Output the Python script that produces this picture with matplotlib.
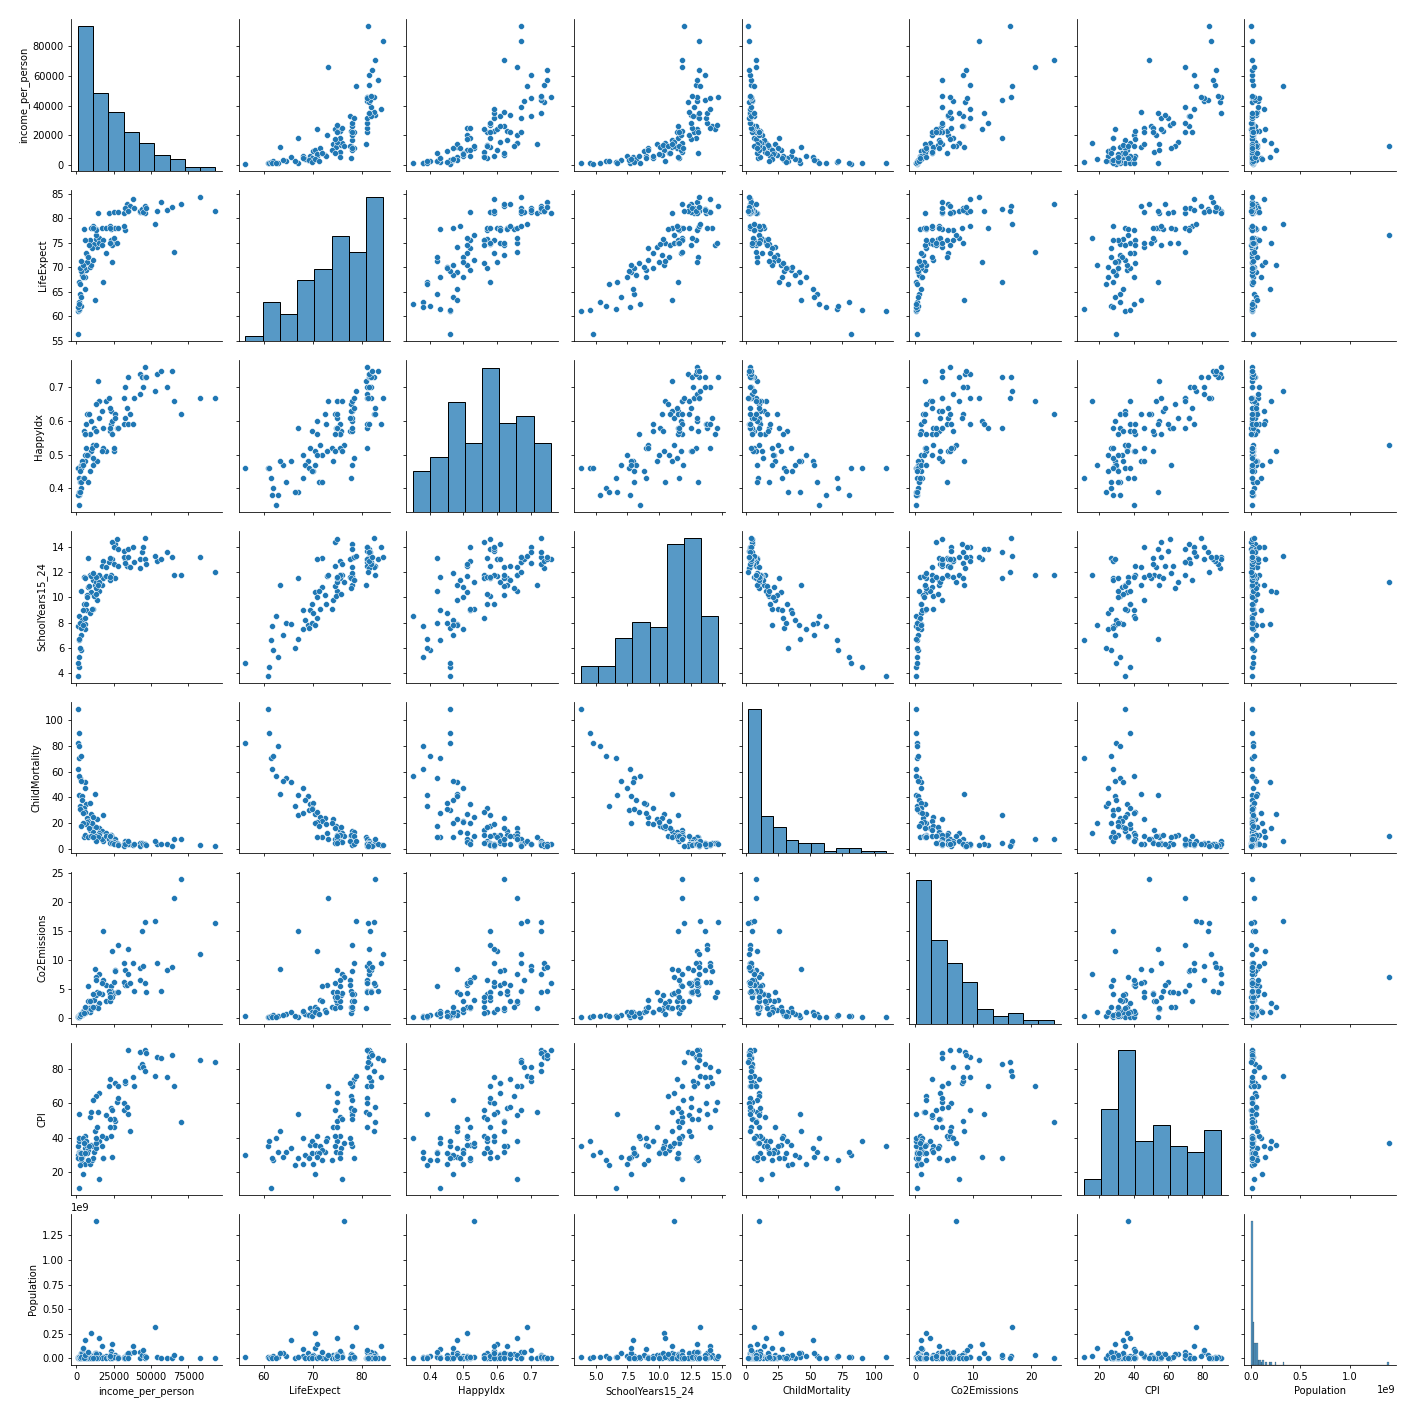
import matplotlib
matplotlib.use("Agg")
import matplotlib.pyplot as plt
import pandas as pd
import seaborn as sns

income_per_person = [1500, 1800, 1100, 1700, 2000, 3000, 1300, 2700, 5800, 1600,
    3500, 12500, 1800, 6000, 3800, 4000, 6500, 2900, 9500, 5200,
    10000, 3500, 14000, 7000, 11500, 6000, 18000, 2500, 8000, 4700,
    15000, 17000, 12000, 10500, 7500, 9000, 20000, 13500, 6500, 11500,
    4500, 15000, 8500, 3000, 5000, 5600, 8000, 10000, 13000, 15500,
    13000, 18000, 23000, 17500, 14500, 13000, 11500, 20000, 23000, 24000,
    26000, 22000, 22500, 26000, 25000, 22500, 24000, 27000, 25000, 28000,
    28000, 33000, 22500, 32000, 32000, 34000, 36000, 35000, 33000, 35000,
    38000, 39000, 43000, 42500, 46000, 44000, 45000, 46000, 46500, 54000,
    53000, 57000, 60500, 63800, 65700, 70400, 82900, 93200]

LifeExpect = [61.0, 61.2, 56.3, 63.0, 61.5, 62.0, 61.8, 64.5, 65.5, 62.5,
    64.0, 63.4, 67.0, 68.0, 69.0, 68.5, 69.5, 66.5, 70.0, 69.8,
    70.5, 69.2, 74.2, 72.5, 71.5, 70.8, 67.0, 69.8, 72.0, 68.0,
    75.0, 78.0, 74.8, 74.0, 71.0, 75.5, 73.0, 75.8, 72.8, 78.5,
    70.5, 76.0, 74.5, 71.3, 77.8, 75.5, 72.0, 78.0, 76.5, 75.0,
    77.8, 75.5, 75.5, 74.5, 81.0, 77.6, 78.0, 78.0, 77.8, 71.0,
    75.0, 81.1, 78.5, 78.0, 76.0, 78.0, 74.5, 75.0, 81.2, 81.2,
    78.0, 77.6, 75.0, 78.5, 81.1, 82.8, 82.5, 81.5, 82.0, 81.5,
    84.0, 82.0, 81.2, 81.5, 81.1, 81.8, 81.2, 82.5, 82.0, 81.5,
    78.8, 83.4, 81.6, 82.2, 73.2, 82.8, 84.4, 81.4]

HappyIdx = [0.46, 0.46, 0.46, 0.38, 0.43, 0.40, 0.38, 0.42, 0.48, 0.35,
    0.47, 0.48, 0.39, 0.50, 0.48, 0.47, 0.52, 0.39, 0.45, 0.57,
    0.51, 0.46, 0.48, 0.62, 0.53, 0.56, 0.58, 0.45, 0.50, 0.43,
    0.66, 0.63, 0.58, 0.52, 0.50, 0.56, 0.51, 0.57, 0.59, 0.49,
    0.47, 0.66, 0.62, 0.42, 0.43, 0.56, 0.42, 0.60, 0.53, 0.61,
    0.65, 0.52, 0.59, 0.51, 0.72, 0.57, 0.47, 0.66, 0.63, 0.60,
    0.62, 0.67, 0.64, 0.61, 0.51, 0.57, 0.56, 0.58, 0.52, 0.58,
    0.58, 0.61, 0.58, 0.67, 0.59, 0.64, 0.62, 0.59, 0.70, 0.73,
    0.59, 0.67, 0.68, 0.74, 0.76, 0.73, 0.70, 0.73, 0.73, 0.74,
    0.69, 0.75, 0.70, 0.75, 0.66, 0.62, 0.67, 0.67]

SchoolYears15_24 = [3.8, 4.5, 4.8, 5.3, 6.6, 5.8, 7.7, 8.0, 7.9, 8.5,
    7.0, 11.0, 6.7, 7.5, 7.8, 8.2, 9.0, 6.0, 8.8, 9.5,
    10.4, 7.6, 9.8, 10.2, 9.1, 8.4, 11.5, 8.0, 10.8, 9.0,
    10.5, 11.0, 10.1, 9.1, 10.0, 11.8, 11.7, 10.3, 9.5, 11.4,
    7.8, 11.8, 10.9, 10.5, 11.6, 11.5, 13.1, 11.7, 11.2, 11.2,
    10.7, 12.9, 11.8, 12.5, 11.0, 11.6, 11.9, 12.4, 11.5, 13.0,
    11.5, 12.8, 11.4, 14.2, 12.6, 13.1, 14.4, 14.6, 14.0, 12.5,
    13.8, 13.0, 11.6, 13.2, 13.7, 12.5, 12.4, 13.8, 12.7, 13.2,
    14.0, 12.8, 13.0, 12.3, 13.0, 13.6, 14.0, 14.7, 12.6, 12.9,
    13.25, 13.0, 13.6, 13.2, 11.8, 11.8, 13.2, 12.0]

ChildMortality = [109, 90, 82, 80, 71, 72, 62, 55, 52, 57,
    53, 43, 42, 47, 41, 38, 35, 33, 36, 32,
    27, 30, 23, 24, 25, 29, 26, 31, 22, 28,
    16, 14, 18, 20, 21, 15, 12.5, 17, 19, 13,
    20.5, 12, 16.5, 18, 9.5, 11, 9, 10, 10, 10.5,
    10, 6, 11, 8, 9, 6, 9, 10, 11, 9,
    8, 8, 10, 5, 5.5, 4.5, 5, 5, 4, 3.5,
    3, 6, 10, 3.5, 2.5, 3.5, 3.5, 3.5, 4, 6,
    3, 4, 4.5, 2.2, 3.5, 5, 3.8, 4, 3, 4,
    6.5, 4, 3.5, 2.6, 8, 8, 2.8, 2.0]

Co2Emissions = [0.10, 0.10, 0.30, 0.20, 0.30, 0.40, 0.10, 0.60, 0.90, 0.10,
    0.40, 8.40, 0.10, 1.00, 0.50, 0.60, 1.70, 0.30, 1.00, 0.90,
    1.90, 0.50, 4.50, 1.30, 3.10, 0.80, 14.9, 0.30, 2.80, 1.10,
    2.50, 4.00, 3.00, 1.80, 1.40, 2.90, 5.60, 3.90, 0.90, 4.00,
    1.00, 7.60, 1.60, 0.60, 0.80, 1.90, 5.50, 1.50, 7.00, 4.20,
    1.80, 6.50, 5.50, 6.00, 1.60, 6.50, 1.90, 2.90, 4.60, 11.5,
    8.30, 4.60, 2.80, 8.10, 4.30, 4.00, 3.50, 4.50, 6.20, 4.50,
    12.5, 5.70, 3.50, 9.50, 6.20, 5.70, 5.90, 11.8, 8.20, 7.50,
    9.50, 4.60, 6.50, 8.50, 6.00, 15.0, 8.90, 16.5, 4.50, 9.50,
    16.7, 4.60, 8.20, 8.70, 20.7, 23.9, 10.9, 16.4]

CPI = [35, 38, 30, 32, 11, 27, 28, 32, 34, 40,
    29, 44, 54, 25, 29, 30, 36, 24, 25, 38,
    36, 28, 46, 32, 35, 41, 28, 31, 33, 40,
    38, 35, 32, 27, 31, 52, 40, 34, 38, 28,
    19, 16, 35, 31, 37, 31, 27, 55, 37, 66,
    64, 28, 41, 41, 55, 40, 62, 53, 57, 29,
    50, 70, 74, 72, 51, 51, 56, 61, 46, 63,
    70, 72, 46, 56, 60, 58, 44, 54, 73, 91,
    75, 70, 81, 90, 91, 83, 81, 79, 89, 87,
    76, 86, 75, 88, 70, 49, 85, 84]

Population_millions = [11.5, 9, 18, 15, 11, 25, 6, 28, 185, 5,
    52, 55, 10.5, 22, 50, 9, 13, 4, 30, 20,
    255, 7, 33, 6, 14, 10, 17, 3, 6.5, 95,
    205, 125, 31, 9, 7, 16, 22, 56, 3.5, 7,
    105, 29, 3, 16, 3.5, 33, 60, 3.8, 1400, 40,
    48, 9.5, 78, 7.2, 4.8, 7, 2.9, 3.9, 43, 144,
    30, 18, 3.4, 38, 9.8, 4.2, 2, 2.9, 10.8, 10.4,
    1.3, 5.4, 19.8, 10.5, 2.1, 46, 58, 50, 8, 4.6,
    127, 64, 65, 5.5, 5.7, 36, 81, 24, 9.8, 17,
    320, 8.2, 4.7, 5.2, 30, 4, 5.5, 0.6]

columns = ["income_per_person", "LifeExpect", "HappyIdx", "SchoolYears15_24",
           "ChildMortality", "Co2Emissions", "CPI", "Population"]
diag_bins = [9, 8, 8, 8, 11, 9, 8, 88]

df = pd.DataFrame({
    "income_per_person": income_per_person,
    "LifeExpect": LifeExpect,
    "HappyIdx": HappyIdx,
    "SchoolYears15_24": SchoolYears15_24,
    "ChildMortality": ChildMortality,
    "Co2Emissions": Co2Emissions,
    "CPI": CPI,
    "Population": [p * 1e6 for p in Population_millions],
})[columns]

bins_by_col = dict(zip(columns, diag_bins))


def diag_hist(x, **kws):
    sns.histplot(x=x, bins=bins_by_col[x.name], **kws)


g = sns.PairGrid(df, height=2.5, diag_sharey=False)
g.map_diag(diag_hist)
g.map_offdiag(sns.scatterplot)
g.figure.set_size_inches(20, 20)
g.tight_layout()
g.figure.savefig("out.png", dpi=70.75)
